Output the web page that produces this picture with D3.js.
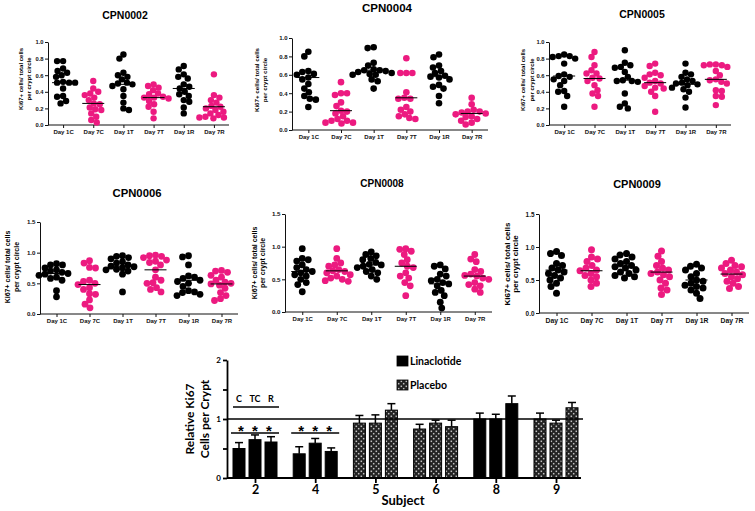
<!DOCTYPE html>
<html><head><meta charset="utf-8">
<script src="https://cdn.jsdelivr.net/npm/d3@7"></script>
<style>body{margin:0;background:#fff} svg{display:block}</style>
</head><body>
<svg id="c" width="755" height="511"></svg>
<script>
// ---------------- DATA ----------------
const categories = ["Day 1C","Day 7C","Day 1T","Day 7T","Day 1R","Day 7R"];
const panelTitles = ["CPN0002","CPN0004","CPN0005","CPN0006","CPN0008","CPN0009"];
const yMaxes = [1.0, 1.0, 1.0, 1.5, 1.5, 1.5];
const yTicksSmall = [0, 0.2, 0.4, 0.6, 0.8, 1.0];
const yTicksLarge = [0, 0.5, 1.0, 1.5];
const yLabelLines = ["Ki67+ cells/ total cells", "per crypt circle"];

const cpn0002 = [
  [0.77,0.77,0.68,0.65,0.63,0.60,0.58,0.52,0.51,0.51,0.51,0.44,0.35,0.34,0.29,0.26],
  [0.53,0.44,0.40,0.38,0.36,0.33,0.30,0.26,0.25,0.21,0.19,0.18,0.14,0.10,0.06,0.03],
  [0.85,0.80,0.63,0.60,0.58,0.55,0.51,0.50,0.49,0.47,0.43,0.35,0.27,0.20,0.18],
  [0.49,0.47,0.45,0.42,0.38,0.37,0.34,0.33,0.33,0.32,0.29,0.25,0.22,0.16,0.08],
  [0.71,0.67,0.61,0.58,0.56,0.49,0.46,0.44,0.40,0.37,0.35,0.30,0.28,0.21,0.14],
  [0.61,0.36,0.33,0.30,0.27,0.23,0.22,0.20,0.18,0.16,0.14,0.12,0.10,0.09,0.08,0.09]
];
const cpn0004 = [
  [0.85,0.80,0.64,0.63,0.61,0.60,0.57,0.55,0.50,0.45,0.41,0.37,0.34,0.33,0.25],
  [0.52,0.40,0.40,0.38,0.30,0.26,0.21,0.20,0.18,0.15,0.12,0.10,0.08,0.08,0.07,0.10],
  [0.90,0.89,0.73,0.70,0.66,0.65,0.65,0.64,0.63,0.62,0.61,0.60,0.60,0.55,0.53,0.45],
  [0.78,0.62,0.62,0.62,0.41,0.35,0.34,0.34,0.25,0.22,0.20,0.17,0.15,0.13,0.12],
  [0.82,0.79,0.70,0.68,0.64,0.62,0.59,0.58,0.57,0.55,0.49,0.47,0.45,0.37,0.29],
  [0.35,0.28,0.22,0.20,0.20,0.19,0.18,0.17,0.15,0.14,0.12,0.10,0.08,0.06]
];
const cpn0005 = [
  [0.85,0.83,0.83,0.82,0.80,0.74,0.61,0.59,0.58,0.55,0.53,0.48,0.41,0.40,0.35,0.22],
  [0.88,0.82,0.72,0.66,0.62,0.62,0.57,0.56,0.53,0.48,0.42,0.38,0.35,0.22],
  [0.90,0.75,0.72,0.70,0.69,0.64,0.58,0.54,0.53,0.53,0.52,0.38,0.26,0.22,0.20],
  [0.74,0.71,0.63,0.61,0.60,0.57,0.53,0.51,0.50,0.47,0.45,0.44,0.40,0.35,0.16],
  [0.74,0.63,0.61,0.58,0.55,0.53,0.51,0.50,0.49,0.48,0.45,0.43,0.40,0.33,0.21],
  [0.73,0.73,0.72,0.72,0.70,0.65,0.60,0.55,0.54,0.52,0.50,0.42,0.41,0.35,0.34,0.24]
];
const cpn0006 = [
  [0.82,0.80,0.80,0.75,0.72,0.70,0.68,0.66,0.65,0.63,0.60,0.58,0.55,0.38,0.28],
  [0.87,0.83,0.76,0.75,0.55,0.53,0.50,0.48,0.43,0.40,0.33,0.32,0.23,0.16,0.10],
  [0.95,0.94,0.92,0.90,0.85,0.83,0.80,0.78,0.77,0.75,0.73,0.72,0.70,0.65,0.36],
  [0.96,0.95,0.94,0.92,0.88,0.86,0.84,0.80,0.72,0.60,0.55,0.51,0.50,0.43,0.40,0.36],
  [0.95,0.93,0.80,0.62,0.60,0.58,0.55,0.53,0.50,0.45,0.38,0.36,0.35,0.32,0.30],
  [0.71,0.70,0.68,0.63,0.60,0.55,0.52,0.50,0.49,0.47,0.42,0.35,0.30,0.25,0.22]
];
const cpn0008 = [
  [0.97,0.82,0.80,0.78,0.72,0.68,0.65,0.62,0.60,0.57,0.55,0.50,0.45,0.42,0.31],
  [0.97,0.82,0.75,0.72,0.70,0.65,0.63,0.62,0.60,0.57,0.55,0.52,0.50,0.48,0.47],
  [0.92,0.88,0.86,0.82,0.80,0.76,0.73,0.72,0.70,0.68,0.65,0.62,0.60,0.55,0.50],
  [0.97,0.96,0.93,0.88,0.80,0.75,0.70,0.68,0.60,0.55,0.52,0.45,0.40,0.25],
  [0.72,0.70,0.66,0.58,0.55,0.50,0.48,0.45,0.43,0.40,0.33,0.30,0.25,0.15,0.06],
  [0.88,0.81,0.77,0.65,0.62,0.58,0.56,0.55,0.52,0.50,0.45,0.42,0.40,0.35,0.30]
];
const cpn0009 = [
  [0.93,0.90,0.87,0.75,0.72,0.68,0.65,0.62,0.60,0.57,0.53,0.50,0.45,0.40,0.30],
  [0.96,0.85,0.82,0.78,0.72,0.68,0.65,0.64,0.60,0.57,0.55,0.50,0.45,0.40],
  [0.90,0.88,0.85,0.82,0.78,0.75,0.72,0.70,0.68,0.65,0.62,0.60,0.57,0.55,0.53],
  [0.94,0.86,0.78,0.72,0.68,0.65,0.62,0.60,0.58,0.55,0.50,0.45,0.38,0.35,0.28],
  [0.74,0.71,0.68,0.65,0.60,0.55,0.50,0.48,0.45,0.42,0.40,0.38,0.35,0.30,0.22],
  [0.80,0.75,0.72,0.70,0.68,0.65,0.62,0.60,0.58,0.55,0.52,0.48,0.45,0.40,0.37]
];
const medians0002 = [0.51,0.26,0.49,0.33,0.44,0.22];
const medians0004 = [0.57,0.21,0.65,0.35,0.58,0.18];
const medians0005 = [0.59,0.56,0.54,0.51,0.49,0.55];
const medians0006 = [0.66,0.48,0.78,0.72,0.55,0.49];
const medians0008 = [0.62,0.63,0.72,0.70,0.43,0.55];
const medians0009 = [0.65,0.64,0.70,0.62,0.50,0.59];

// bar chart
const subjects = ["2","4","5","6","8","9"];
const treatments = ["Linaclotide","Linaclotide","Placebo","Placebo","Linaclotide","Placebo"];
const barMeans = [[0.50,0.65,0.61],[0.41,0.59,0.45],[0.93,0.93,1.15],[0.83,0.93,0.87],[1.00,1.00,1.26],[1.00,0.93,1.19]];
const barErrors = [[0.10,0.08,0.09],[0.12,0.08,0.06],[0.13,0.14,0.11],[0.08,0.05,0.11],[0.10,0.08,0.13],[0.10,0.05,0.09]];
const barYTicks = [0, 0.5, 1, 1.5, 2];
const legendItems = ["Linaclotide","Placebo"];
const phaseLabels = ["C","TC","R"];
const sigSubjects = ["2","4"];
const sigMark = "*";

// ---------------- DRAW ----------------
const svg = d3.select("#c");
const PINK = "#ec1a80";
const FONT = "'Liberation Sans', Arial, sans-serif";
const FONT2 = "Lato, 'Open Sans', sans-serif";

const panelData = [cpn0002,cpn0004,cpn0005,cpn0006,cpn0008,cpn0009];
const panelMedians = [medians0002,medians0004,medians0005,medians0006,medians0008,medians0009];

const frames = [
 {x0:48, x1:229, yTop:42, yBot:125, tx:125, ty:19, lx:[21,29], lc:79, tfs:10.5, lfs:6.0, cfs:6.0, kfs:5.8, r:3.2},
 {x0:292,x1:488, yTop:38, yBot:130, tx:387, ty:12, lx:[257,265], lc:80, tfs:11.5, lfs:6.2, cfs:6.0, kfs:6.0, r:3.3},
 {x0:549,x1:731, yTop:42, yBot:125, tx:642, ty:18, lx:[523,532], lc:80, tfs:10.5, lfs:6.0, cfs:6.0, kfs:5.8, r:3.2},
 {x0:40, x1:238, yTop:222,yBot:314, tx:137, ty:197, lx:[8,17], lc:267, tfs:11.3, lfs:7.0, cfs:6.0, kfs:6.2, r:3.4},
 {x0:285,x1:492, yTop:214,yBot:312, tx:382, ty:187, lx:[255,263], lc:263, tfs:10.0, lfs:7.0, cfs:6.0, kfs:6.2, r:3.4},
 {x0:539,x1:749, yTop:214,yBot:313, tx:637, ty:188, lx:[507,515], lc:264, tfs:11.0, lfs:8.0, cfs:6.8, kfs:6.4, r:3.5}
];

function swarm(vals, y, r) {
  const order = vals.map((v,i)=>i).sort((a,b)=>vals[b]-vals[a]);
  const placed = []; const offs = new Array(vals.length).fill(0);
  const minD = 2*r*0.88;
  order.forEach((i, n) => {
    const py = y(vals[i]);
    let best = 0;
    outer:
    for (let k = 0; k <= 44; k++) {
      const s = n % 2 ? -1 : 1;
      const cands = k === 0 ? [0] : [s*k*0.5, -s*k*0.5];
      for (const c of cands) {
        if (placed.every(p => (p.x-c)**2 + (p.y-py)**2 >= minD*minD)) { best = c; break outer; }
      }
    }
    offs[i] = best; placed.push({x:best, y:py});
  });
  return offs;
}

panelTitles.forEach((title, pi) => {
  const f = frames[pi];
  const g = svg.append("g");
  const y = d3.scaleLinear([0, yMaxes[pi]], [f.yBot, f.yTop]);
  const x = d3.scalePoint(categories, [f.x0, f.x1]).padding(0.5);
  const r = f.r;

  g.append("text").attr("x", f.tx).attr("y", f.ty).attr("text-anchor","middle")
    .attr("font-family", FONT).attr("font-weight","bold").attr("font-size", f.tfs).text(title);

  const yAxis = g.append("g").attr("transform", `translate(${f.x0},0)`)
    .call(d3.axisLeft(y).tickValues(yMaxes[pi] > 1 ? yTicksLarge : yTicksSmall)
      .tickFormat(d3.format(".1f")).tickSize(3).tickSizeOuter(0).tickPadding(1.5));
  const xAxis = g.append("g").attr("transform", `translate(0,${f.yBot})`)
    .call(d3.axisBottom(x).tickSize(3).tickSizeOuter(0).tickPadding(2));
  xAxis.select(".domain").attr("d", `M${f.x0},0H${f.x1}`);
  [yAxis, xAxis].forEach(a => {
    a.selectAll("path,line").attr("stroke","#111").attr("stroke-width",1);
    a.selectAll("text").attr("font-family", FONT).attr("font-weight","bold").attr("fill","#111");
  });
  yAxis.selectAll("text").attr("font-size", f.kfs);
  xAxis.selectAll("text").attr("font-size", f.cfs);

  yLabelLines.forEach((t, li) => {
    g.append("text").attr("transform", `translate(${f.lx[li]},${f.lc}) rotate(-90)`)
      .attr("text-anchor","middle").attr("dy","0.35em")
      .attr("font-family", FONT).attr("font-weight","bold").attr("font-size", f.lfs).text(t);
  });

  panelData[pi].forEach((vals, ci) => {
    const cx = x(categories[ci]);
    const col = categories[ci].includes("7") ? PINK : "#000";
    const offs = swarm(vals, y, r);
    g.append("g").selectAll("circle").data(vals).join("circle")
      .attr("cx", (d,i) => cx + offs[i]).attr("cy", d => y(d)).attr("r", r).attr("fill", col);
    const m = panelMedians[pi][ci];
    g.append("line").attr("x1", cx-11).attr("x2", cx+11).attr("y1", y(m)).attr("y2", y(m))
      .attr("stroke","#000").attr("stroke-width",1);
  });
});

// ---------- Bar chart ----------
const defs = svg.append("defs");
const pat = defs.append("pattern").attr("id","dots").attr("patternUnits","userSpaceOnUse")
  .attr("width",5).attr("height",5);
pat.append("rect").attr("width",5).attr("height",5).attr("fill","#222");
pat.append("circle").attr("cx",1.25).attr("cy",1.25).attr("r",1.0).attr("fill","#f2f2f2").attr("stroke","#000").attr("stroke-width",0.4);
pat.append("circle").attr("cx",3.75).attr("cy",3.75).attr("r",1.0).attr("fill","#f2f2f2").attr("stroke","#000").attr("stroke-width",0.4);

const bg = svg.append("g");
const by = d3.scaleLinear([0, 2], [478, 360]);
const bx = d3.scalePoint(subjects, [255, 556]);
const sub = d3.scaleBand([0,1,2], [-22, 22]).paddingInner(0.25);
const axX0 = 227, axX1 = 581;

const fillFor = t => t === "Placebo" ? "url(#dots)" : "#000";

subjects.forEach((s, gi) => {
  barMeans[gi].forEach((v, bi) => {
    const x0 = bx(s) + sub(bi), w = sub.bandwidth();
    bg.append("rect").attr("x", x0).attr("y", by(v)).attr("width", w).attr("height", by(0) - by(v))
      .attr("fill", fillFor(treatments[gi])).attr("stroke","#000").attr("stroke-width",1);
    const cx = x0 + w/2, top = by(v + barErrors[gi][bi]);
    bg.append("line").attr("x1",cx).attr("x2",cx).attr("y1",by(v)).attr("y2",top).attr("stroke","#000").attr("stroke-width",1.5);
    bg.append("line").attr("x1",cx-4).attr("x2",cx+4).attr("y1",top).attr("y2",top).attr("stroke","#000").attr("stroke-width",1.5);
  });
});

// reference line at 1
bg.append("line").attr("x1", axX0).attr("x2", axX1 + 2).attr("y1", by(1)).attr("y2", by(1))
  .attr("stroke","#000").attr("stroke-width",1.6);

const byAxis = bg.append("g").attr("transform",`translate(${axX0},0)`)
  .call(d3.axisLeft(by).tickValues(barYTicks).tickFormat(d => Number.isInteger(d) ? d : "").tickSize(4).tickSizeOuter(0).tickPadding(2));
const bxAxis = bg.append("g").attr("transform",`translate(0,${by(0)})`)
  .call(d3.axisBottom(bx).tickSize(5).tickSizeOuter(0).tickPadding(2));
bxAxis.select(".domain").attr("d", `M${axX0},0H${axX1}`);
[byAxis, bxAxis].forEach(a => {
  a.selectAll("path,line").attr("stroke","#000").attr("stroke-width",1.8);
  a.selectAll("text").attr("font-family", FONT2).attr("font-weight","bold").attr("fill","#000");
});
byAxis.selectAll("text").attr("font-size", 8);
bxAxis.selectAll("text").attr("font-size", 12.5);

bg.append("text").attr("x", 403).attr("y", 505).attr("text-anchor","middle")
  .attr("font-family", FONT2).attr("font-weight","bold").attr("font-size", 13).text("Subject");
[["Relative Ki67", 190], ["Cells per Crypt", 205]].forEach(([t, lx]) => {
  bg.append("text").attr("transform",`translate(${lx},419) rotate(-90)`).attr("text-anchor","middle")
    .attr("dy","0.35em").attr("font-family", FONT2).attr("font-weight","bold").attr("font-size", 12).text(t);
});

// legend
legendItems.forEach((t, i) => {
  const ly = 356 + i*24;
  bg.append("rect").attr("x", 397).attr("y", ly).attr("width", 11).attr("height", 10)
    .attr("fill", t === "Placebo" ? "url(#dots)" : "#000").attr("stroke","#000").attr("stroke-width",0.8);
  bg.append("text").attr("x", 410).attr("y", ly + 9).attr("font-family", FONT2).attr("font-weight","bold")
    .attr("font-size", 10.5).text(t);
});

// phase labels and significance
const s0 = sigSubjects[0];
phaseLabels.forEach((t, i) => {
  bg.append("text").attr("x", bx(s0) + sub(i) + sub.bandwidth()/2).attr("y", 402).attr("text-anchor","middle")
    .attr("font-family", FONT2).attr("font-weight","bold").attr("font-size", 9).text(t);
});
bg.append("line").attr("x1", bx(s0) + sub(0)).attr("x2", bx(s0) + sub(2) + sub.bandwidth() + 2)
  .attr("y1", 407).attr("y2", 407).attr("stroke","#000").attr("stroke-width",1.5);
sigSubjects.forEach(s => {
  [0,1,2].forEach(i => {
    bg.append("text").attr("x", bx(s) + sub(i) + sub.bandwidth()/2 + (i-1)*-2).attr("y", 436).attr("text-anchor","middle")
      .attr("font-family", FONT).attr("font-weight","bold").attr("font-size", 15).text(sigMark);
  });
  bg.append("line").attr("x1", bx(s) + sub(0) - 2).attr("x2", bx(s) + sub(2) + sub.bandwidth() + 2)
    .attr("y1", 433).attr("y2", 433).attr("stroke","#000").attr("stroke-width",1.5);
});
</script>
</body></html>
